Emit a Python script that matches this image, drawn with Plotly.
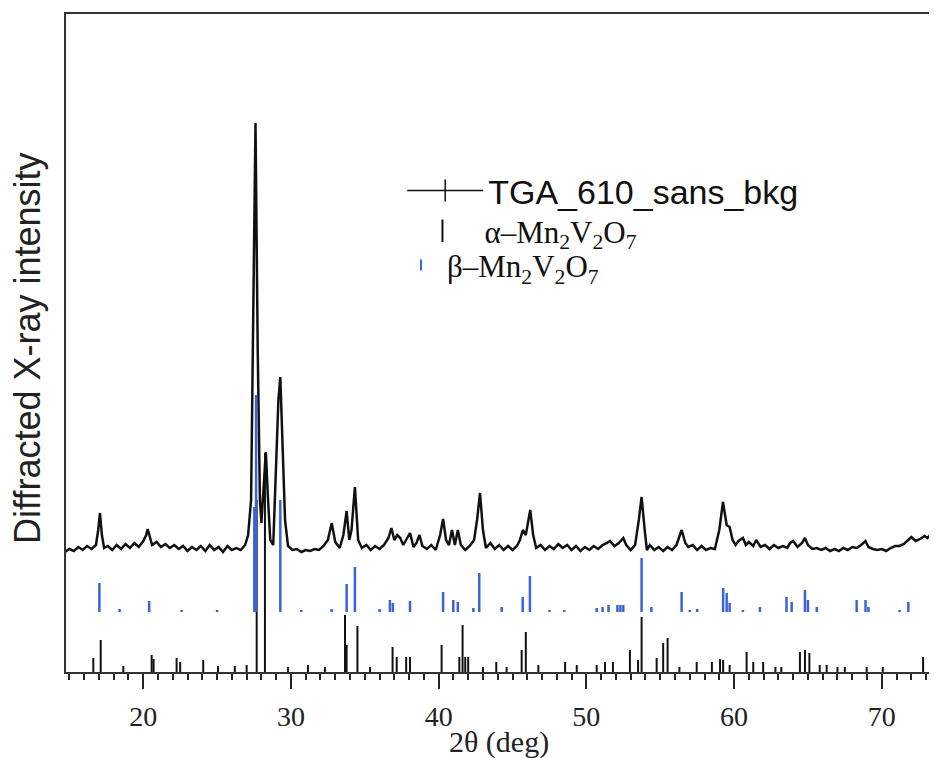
import plotly.graph_objects as go

# ---------------- data ----------------
# measured pattern: 2theta (deg) and intensity (a.u.)
tth = [14.7, 15.0, 15.3, 15.6, 15.9, 16.2, 16.5, 16.8, 16.95, 17.07, 17.2, 17.35, 17.6, 17.9,
       18.2, 18.5, 18.8, 19.1, 19.4, 19.7, 20.0, 20.2, 20.3, 20.45, 20.6, 20.9, 21.2, 21.5,
       21.8, 22.1, 22.4, 22.7, 23.0, 23.3, 23.6, 23.9, 24.2, 24.5, 24.8, 25.1, 25.4, 25.7,
       26.0, 26.3, 26.6, 26.9, 27.1, 27.3, 27.45, 27.6, 27.75, 27.9, 28.0, 28.15, 28.3, 28.45,
       28.6, 28.8, 29.0, 29.15, 29.28, 29.45, 29.6, 29.8, 30.1, 30.4, 30.7, 31.0, 31.3, 31.6,
       31.9, 32.2, 32.5, 32.76, 33.0, 33.3, 33.55, 33.77, 33.95, 34.1, 34.33, 34.55, 34.8,
       35.1, 35.4, 35.7, 36.0, 36.3, 36.6, 36.8, 37.0, 37.2, 37.4, 37.6, 37.8, 38.06, 38.3,
       38.5, 38.7, 38.9, 39.2, 39.5, 39.8, 40.1, 40.3, 40.5, 40.7, 40.9, 41.1, 41.3, 41.5,
       41.8, 42.1, 42.4, 42.6, 42.8, 43.0, 43.2, 43.5, 43.8, 44.1, 44.4, 44.7, 45.0, 45.3,
       45.5, 45.7, 45.9, 46.2, 46.4, 46.6, 46.9, 47.2, 47.5, 47.8, 48.1, 48.4, 48.7, 49.0,
       49.3, 49.6, 49.9, 50.2, 50.5, 50.8, 51.1, 51.4, 51.6, 51.9, 52.2, 52.5, 52.7, 53.0,
       53.3, 53.55, 53.74, 53.95, 54.1, 54.3, 54.6, 54.9, 55.2, 55.5, 55.8, 56.1, 56.3, 56.45,
       56.7, 56.9, 57.2, 57.5, 57.8, 58.1, 58.4, 58.7, 59.0, 59.25, 59.5, 59.7, 59.9, 60.1,
       60.3, 60.6, 60.8, 61.0, 61.3, 61.5, 61.8, 62.1, 62.4, 62.7, 63.0, 63.3, 63.6, 63.8,
       64.0, 64.3, 64.6, 64.8, 65.0, 65.3, 65.6, 65.9, 66.2, 66.5, 66.8, 67.1, 67.4, 67.7,
       68.0, 68.3, 68.6, 68.9, 69.1, 69.4, 69.7, 70.0, 70.3, 70.6, 70.9, 71.2, 71.5, 71.8,
       72.0, 72.3, 72.6, 72.9, 73.1, 73.4, 73.6]
intensity = [120, 123, 121, 125, 122, 126, 123, 127, 142, 159, 137, 124, 126, 122,
             127, 123, 128, 124, 129, 125, 131, 137, 143, 134, 127, 130, 125, 128,
             124, 127, 123, 126, 121, 125, 122, 126, 121, 127, 122, 125, 120, 126,
             122, 124, 122, 127, 137, 172, 342, 549, 322, 172, 149, 182, 220, 172,
             132, 127, 202, 272, 295, 222, 152, 126, 122, 123, 120, 122, 121, 123,
             122, 126, 132, 149, 130, 124, 137, 161, 132, 142, 185, 132, 124,
             127, 122, 126, 123, 127, 134, 144, 132, 137, 134, 127, 132, 139, 125,
             129, 137, 126, 123, 127, 122, 137, 153, 132, 127, 142, 127, 142, 127,
             122, 126, 132, 152, 179, 142, 124, 129, 123, 127, 122, 126, 122, 126,
             132, 142, 137, 162, 137, 124, 127, 122, 126, 123, 128, 124, 127, 122,
             126, 121, 125, 122, 126, 123, 127, 129, 131, 126, 129, 134, 127, 122,
             127, 152, 175, 142, 122, 127, 122, 125, 121, 125, 122, 127, 137, 142,
             129, 125, 127, 122, 126, 122, 124, 123, 142, 170, 147, 145, 132, 127,
             131, 134, 127, 130, 126, 132, 125, 127, 123, 127, 124, 126, 124, 129,
             131, 125, 129, 134, 127, 123, 124, 122, 124, 121, 123, 121, 124, 122,
             125, 124, 127, 131, 125, 123, 122, 123, 121, 124, 126, 126, 128, 132,
             135, 131, 133, 136, 134, 139, 138]

# alpha-Mn2V2O7 reference reflections: position (deg) and stick height (a.u.)
alpha_pos = [16.62, 17.12, 18.65, 20.57, 20.7, 22.26, 22.5, 24.06, 25.06, 26.2, 27.0, 27.68,
             28.24, 29.8, 31.15, 32.3, 33.66, 33.77, 34.5, 35.35, 36.88, 37.16, 37.8, 38.06,
             40.2, 41.4, 41.62, 41.8, 42.0, 43.0, 43.9, 44.6, 45.62, 45.9, 46.75, 48.56,
             49.35, 50.7, 51.26, 51.8, 52.95, 53.5, 53.74, 54.76, 55.2, 55.5, 56.3, 57.47,
             58.5, 59.05, 59.26, 59.7, 60.85, 61.3, 61.97, 62.8, 63.2, 64.46, 64.8, 65.1,
             65.8, 66.27, 67.0, 67.5, 68.98, 70.07, 72.8]
alpha_int = [14, 32, 6, 17, 13, 14, 10, 12, 6, 6, 7, 172,
             219, 5, 7, 5, 57, 27, 46, 5, 25, 15, 15, 15,
             27, 15, 47, 15, 15, 5, 10, 5, 22, 40, 7, 10,
             7, 7, 10, 10, 22, 12, 55, 14, 29, 34, 5, 10,
             10, 13, 12, 7, 20, 10, 10, 5, 5, 20, 22, 19,
             7, 7, 5, 5, 5, 5, 15]

# beta-Mn2V2O7 reference reflections
beta_pos = [17.03, 18.4, 20.4, 22.6, 25.0, 27.52, 27.64, 29.28, 30.7, 32.75, 33.77, 34.33,
            36.0, 36.7, 36.9, 38.06, 40.3, 40.99, 41.3, 42.35, 42.75, 44.27, 45.69, 46.18,
            47.5, 48.5, 50.7, 51.1, 51.5, 52.1, 52.3, 52.5, 53.74, 54.4, 56.45, 57.0, 57.5,
            59.26, 59.5, 59.7, 60.6, 61.75, 63.55, 63.9, 64.8, 65.0, 65.6, 68.3, 68.9, 69.1,
            71.2, 71.8]
beta_int = [29, 3, 11, 2, 2, 105, 217, 112, 2, 3, 28, 45,
            3, 12, 9, 11, 20, 12, 10, 4, 39, 5, 15, 36,
            2, 2, 4, 5, 7, 7, 7, 7, 54, 5, 20, 2, 3,
            24, 19, 9, 2, 5, 15, 10, 22, 12, 5, 12, 12, 5,
            2, 10]
beta_offset = 60   # vertical offset of the beta tick row (a.u.)

x_ticks = [20, 30, 40, 50, 60, 70]

# ---------------- figure ----------------
BLUE = "#3b63d8"
INK = "#111111"


def sticks(pos, hts, base):
    xs, ys = [], []
    for p, h in zip(pos, hts):
        xs += [p, p, None]
        ys += [base, base + h, None]
    return xs, ys


fig = go.Figure()

fig.add_trace(go.Scatter(x=tth, y=intensity, mode="lines",
                         line=dict(color=INK, width=2.5), showlegend=False,
                         hoverinfo="skip"))

ax, ay = sticks(alpha_pos, alpha_int, 0)
fig.add_trace(go.Scatter(x=ax, y=ay, mode="lines", line=dict(color=INK, width=2),
                         showlegend=False, hoverinfo="skip"))

bx, by = sticks(beta_pos, beta_int, beta_offset)
fig.add_trace(go.Scatter(x=bx, y=by, mode="lines", line=dict(color=BLUE, width=2.5),
                         showlegend=False, hoverinfo="skip"))

# legend entries
fig.add_trace(go.Scatter(x=[None], y=[None], mode="lines+markers",
                         line=dict(color=INK, width=1.5),
                         marker=dict(symbol="line-ns-open", size=18, color=INK,
                                     line=dict(color=INK, width=1.5)),
                         name="TGA_610_sans_bkg", legend="legend"))
fig.add_trace(go.Scatter(x=[None], y=[None], mode="markers",
                         marker=dict(symbol="line-ns-open", size=16, color=INK,
                                     line=dict(color=INK, width=2)),
                         name="α–Mn<sub>2</sub>V<sub>2</sub>O<sub>7</sub>", legend="legend2"))
fig.add_trace(go.Scatter(x=[None], y=[None], mode="markers",
                         marker=dict(symbol="line-ns-open", size=8, color=BLUE,
                                     line=dict(color=BLUE, width=2)),
                         name="β–Mn<sub>2</sub>V<sub>2</sub>O<sub>7</sub>", legend="legend3"))

SERIF = "Liberation Serif, Times New Roman, serif"
SANS = "Liberation Sans, Arial, Helvetica, sans-serif"

# the page body adds an 8 px offset, so the figure is 8 px smaller on each side
fig.update_layout(
    width=929, height=750,
    margin=dict(l=58, r=0, t=6, b=86),
    paper_bgcolor="white", plot_bgcolor="white",
    xaxis=dict(range=[14.77, 73.74], tickvals=x_ticks, ticks="outside", ticklen=15,
               tickwidth=2, tickcolor="#222", showline=True, linecolor="#333",
               linewidth=2, mirror=True, showgrid=False, zeroline=False,
               automargin=False,
               tickfont=dict(family=SERIF, size=28, color="#222"),
               ticklabelstandoff=3,
               minor=dict(dtick=1, ticks="outside", ticklen=6, tickwidth=2,
                          tickcolor="#222", showgrid=False)),
    yaxis=dict(range=[0, 658], showticklabels=False, ticks="", showline=True,
               linecolor="#333", linewidth=2, showgrid=False, zeroline=False,
               automargin=False),
    annotations=[
        dict(text="2θ (deg)", xref="paper", yref="paper", x=0.497, y=-0.106,
             xanchor="center", yanchor="middle", showarrow=False,
             font=dict(family=SERIF, size=30, color="#222")),
        dict(text="Diffracted X-ray intensity", xref="paper", yref="paper",
             x=-0.0436, y=0.491, xanchor="center", yanchor="middle", textangle=-90,
             showarrow=False, font=dict(family=SANS, size=36, color="#222")),
    ],
    legend=dict(x=0.386, y=0.731, xanchor="left", yanchor="middle",
                font=dict(family=SANS, size=34, color=INK),
                bgcolor="rgba(0,0,0,0)", itemwidth=76),
    legend2=dict(x=0.384, y=0.670, xanchor="left", yanchor="middle",
                 font=dict(family=SERIF, size=31, color=INK),
                 bgcolor="rgba(0,0,0,0)", itemwidth=74),
    legend3=dict(x=0.3777, y=0.618, xanchor="left", yanchor="middle",
                 font=dict(family=SERIF, size=31, color=INK),
                 bgcolor="rgba(0,0,0,0)", itemwidth=42),
)

fig.write_html("out.html")
